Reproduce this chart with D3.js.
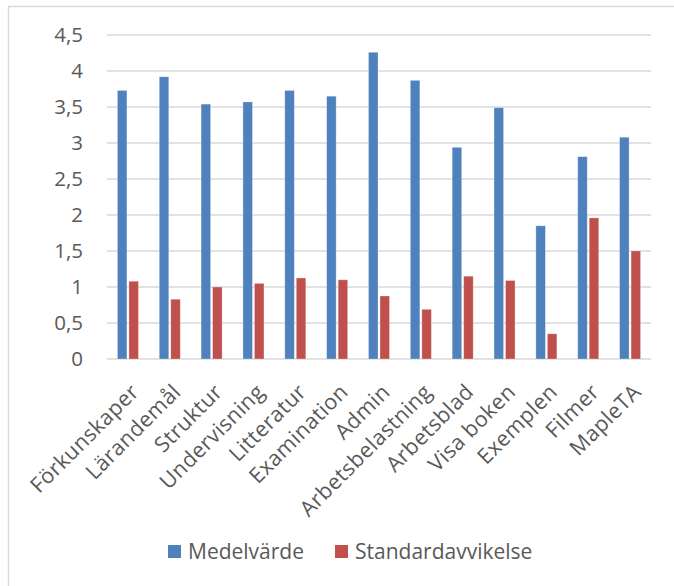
<!DOCTYPE html>
<html>
<head>
<meta charset="utf-8">
<script src="https://cdn.jsdelivr.net/npm/d3@7"></script>
<style>
body { margin: 0; background: #fff; }
text { font-family: "Open Sans", "Liberation Sans", sans-serif; fill: #595959; }
</style>
</head>
<body>
<script>
let w = 674
let h = 586

// data
let categories = ["Förkunskaper", "Lärandemål", "Struktur", "Undervisning", "Litteratur", "Examination",
	"Admin", "Arbetsbelastning", "Arbetsblad", "Visa boken", "Exemplen", "Filmer", "MapleTA"]
let seriesNames = ["Medelvärde", "Standardavvikelse"]
let medel = [3.73, 3.92, 3.54, 3.57, 3.73, 3.65, 4.26, 3.87, 2.94, 3.49, 1.85, 2.81, 3.08]
let stdav = [1.08, 0.83, 1.0, 1.05, 1.125, 1.1, 0.875, 0.69, 1.15, 1.09, 0.35, 1.96, 1.5]
let yTicks = [0, 0.5, 1, 1.5, 2, 2.5, 3, 3.5, 4, 4.5]
let colors = ["#4f81bd", "#c0504d"]

let svg = d3.select("body").append("svg")
	.attr("width", w)
	.attr("height", h)

// chart border
svg.append("rect")
	.attr("x", 8.5).attr("y", 6.5)
	.attr("width", 700).attr("height", 620)
	.attr("fill", "none")
	.attr("stroke", "#d9d9d9")
	.attr("stroke-width", 1.5)

let plotLeft = 107, plotRight = 651
let yScale = d3.scaleLinear().domain([0, 4.5]).range([359, 35])
let xScale = d3.scaleBand().domain(categories).range([plotLeft, plotRight])
let barW = 9.5, barGap = 2

// gridlines
svg.append("g").selectAll("line")
	.data(yTicks)
	.enter()
	.append("line")
	.attr("x1", plotLeft).attr("x2", plotRight)
	.attr("y1", d => yScale(d)).attr("y2", d => yScale(d))
	.attr("stroke", "#d9d9d9")
	.attr("stroke-width", 1.5)

// y axis labels
let yAxis = d3.axisLeft(yScale)
	.tickValues(yTicks)
	.tickSize(0)
	.tickPadding(0)
	.tickFormat(d => String(d).replace(".", ","))
let gy = svg.append("g")
	.attr("transform", "translate(83,0)")
	.call(yAxis)
gy.select(".domain").remove()
gy.selectAll("text")
	.attr("font-size", 20.5)
	.attr("fill", "#595959")
	.attr("font-family", "'Open Sans', sans-serif")

// bars
let groupW = 2 * barW + barGap
let series = [medel, stdav]
series.forEach((vals, s) => {
	svg.append("g").selectAll("rect")
		.data(vals)
		.enter()
		.append("rect")
		.attr("x", (d, i) => xScale(categories[i]) + (xScale.bandwidth() - groupW) / 2 + s * (barW + barGap))
		.attr("y", d => yScale(d))
		.attr("width", barW)
		.attr("height", d => yScale(0) - yScale(d))
		.attr("fill", colors[s])
		.attr("stroke", "#ffffff")
		.attr("stroke-opacity", 0.35)
		.attr("stroke-width", 0.8)
})

// x labels
let xAxis = d3.axisBottom(xScale).tickSize(0).tickPadding(0)
let gx = svg.append("g")
	.attr("transform", "translate(0,382)")
	.call(xAxis)
gx.select(".domain").remove()
gx.selectAll("text")
	.attr("font-size", 21.5)
	.attr("letter-spacing", 0.4)
	.attr("fill", "#595959")
	.attr("font-family", "'Open Sans', sans-serif")
	.attr("text-anchor", "end")
	.attr("dy", "0.74em")
	.attr("y", 0)
	.attr("transform", "translate(1,0) rotate(-45)")

// legend
let legend = svg.append("g")
let legendX = [168, 335]
seriesNames.forEach((n, i) => {
	legend.append("rect")
		.attr("x", legendX[i]).attr("y", 545)
		.attr("width", 13).attr("height", 13)
		.attr("fill", colors[i])
	legend.append("text")
		.attr("x", legendX[i] + 20).attr("y", 558.5)
		.attr("font-size", 21)
		.text(n)
})
</script>
</body>
</html>
